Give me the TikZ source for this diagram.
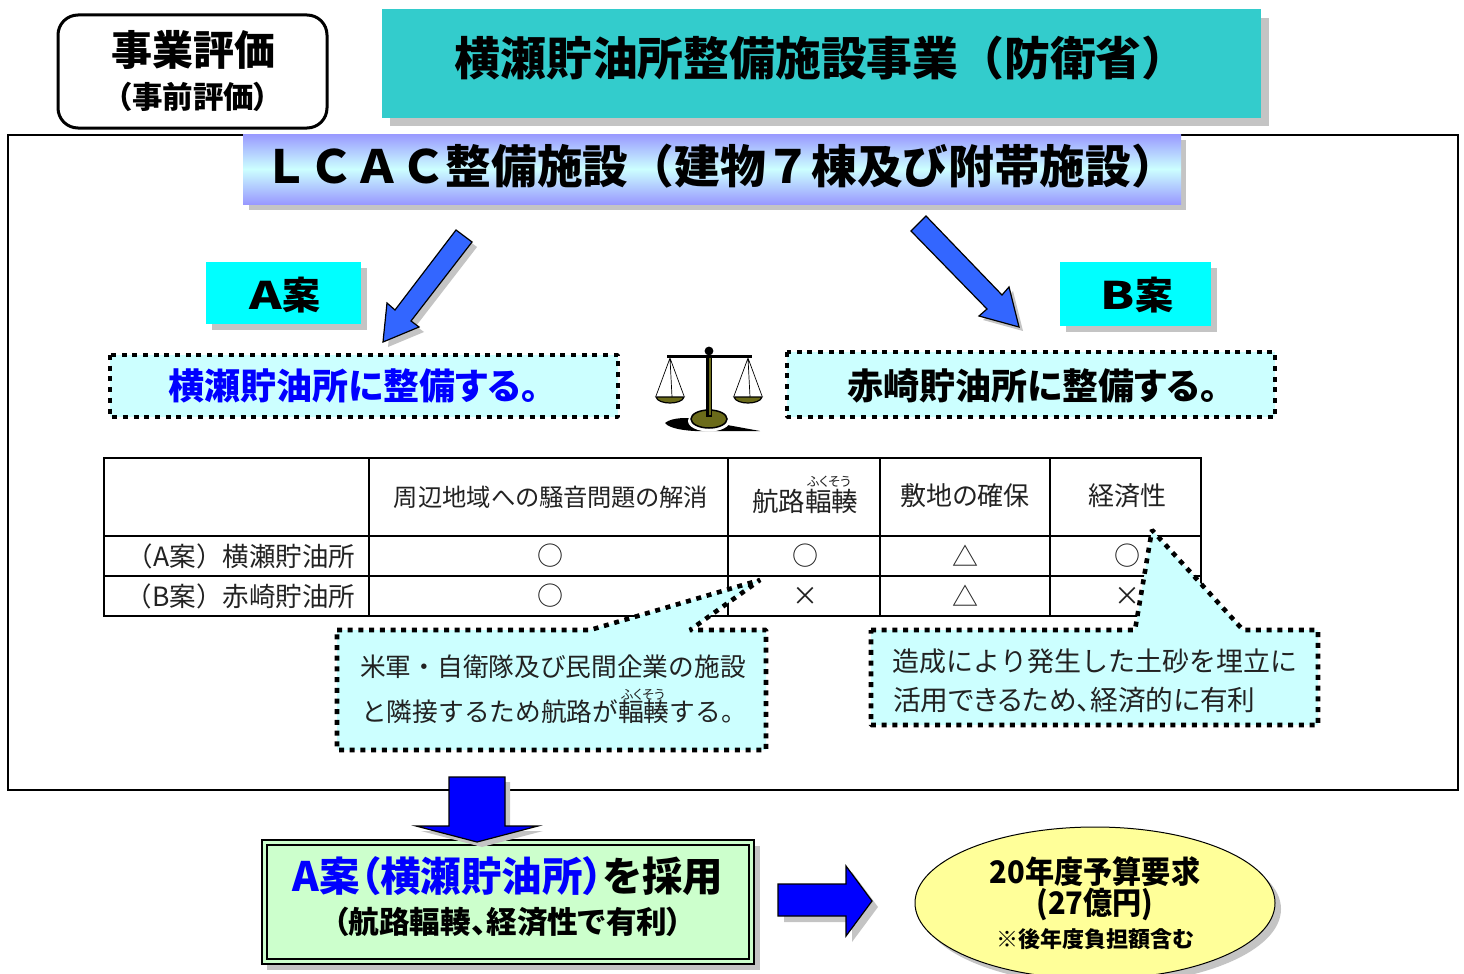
\documentclass[tikz,border=0pt]{standalone}
\usepackage{fontspec}
\setmainfont{Noto Sans CJK JP}[RawFeature=+palt]
\newfontfamily\jpf{Noto Sans CJK JP}
\usetikzlibrary{shapes.geometric}
\newcommand{\fsz}[1]{\fontsize{#1}{#1}\selectfont}
\definecolor{tealbox}{HTML}{33CCCC}
\definecolor{shadowgray}{HTML}{C4C4C4}
\definecolor{palecyan}{HTML}{CCFFFF}
\definecolor{aqua}{HTML}{00FFFF}
\definecolor{arrowblue}{HTML}{3366FF}
\definecolor{peri}{HTML}{9999FF}
\definecolor{palegreen}{HTML}{CCFFCC}
\definecolor{paleyellow}{HTML}{FFFF99}
\definecolor{olive}{HTML}{6B6B1A}
\definecolor{inkgray}{HTML}{222222}
\tikzset{
  x=1pt,y=-1pt,
  lbl/.style={inner sep=0pt,outer sep=0pt,align=center,text=black},
  shade box/.style={fill=shadowgray,draw=none},
  dotline/.style={draw=black,line width=4.6pt,dash pattern=on 5pt off 5.7pt,line join=bevel},
  cell/.style={lbl,text=inkgray},
  blockarrow/.style={draw=black,line width=1.2pt,line join=miter},
  tablerule/.style={draw=black,line width=2pt},
}
\begin{document}
\begin{tikzpicture}
\useasboundingbox (0,0) rectangle (1464,974);
% header
\draw[black,line width=3pt,rounded corners=20pt,fill=white] (58,15) rectangle (327,128);
\node[lbl] (hyoka) at (193,50) {\fsz{41}\bfseries 事業評価};
\node[lbl] (jizen) at (193,97) {\fsz{30.5}\bfseries （事前評価）};
\fill[shade box] (390,18) rectangle (1269,126);
\fill[tealbox] (382,9.5) rectangle (1261,118);
\node[lbl] (title) at (821,58) {\jpf\fsz{45.8}\bfseries 横瀬貯油所整備施設事業（防衛省）};
% frame
\draw[black,line width=2.4pt,fill=white] (8,135) rectangle (1458,790);
\fill[shade box] (249,140) rectangle (1186,210);
\shade[top color=peri,bottom color=peri,middle color=palecyan] (243,134) rectangle (1181,204);
\node[lbl] (lcac) at (720,166) {\jpf\fsz{45.7}\bfseries ＬＣＡＣ整備施設（建物７棟及び附帯施設）};
% options
\fill[shade box] (212,268) rectangle (367,330);
\fill[aqua] (206,261.5) rectangle (361,324);
\node[lbl] (aan) at (285,295) {\fsz{38}\bfseries \scalebox{1.3}[1]{A}案};
\fill[shade box] (1066,268) rectangle (1217,332);
\fill[aqua] (1060,261.5) rectangle (1211,326);
\node[lbl] (ban) at (1137,295) {\fsz{38}\bfseries \scalebox{1.3}[1]{B}案};
% arrows
\fill[shade box,shift={(5,5)}] (456,230) -- (472,242) -- (411,321) -- (419,327) -- (383,342) -- (387,303) -- (395,310) -- cycle;
\draw[blockarrow,fill=arrowblue] (456,230) -- (472,242) -- (411,321) -- (419,327) -- (383,342) -- (387,303) -- (395,310) -- cycle;
\fill[shade box,shift={(4,4)}] (926,216) -- (911,231) -- (987,309) -- (979,316) -- (1019,327) -- (1009,287) -- (1002,295) -- cycle;
\draw[blockarrow,fill=arrowblue] (926,216) -- (911,231) -- (987,309) -- (979,316) -- (1019,327) -- (1009,287) -- (1002,295) -- cycle;
% plan boxes
\path[fill=palecyan] (110,355) rectangle (618,417);
\path[dotline] (110,355) rectangle (618,417);
\node[lbl,text=blue] (plana) at (354,385.5) {\fsz{36}\bfseries 横瀬貯油所に整備する。};
\path[fill=palecyan] (787,352) rectangle (1275,417);
\path[dotline] (787,352) rectangle (1275,417);
\node[lbl] (planb) at (1033,385.5) {\fsz{36}\bfseries 赤崎貯油所に整備する。};
% scales
\fill[black] (665,423) .. controls (672,417) and (690,417) .. (700,420) -- (760,431) -- (712,431) .. controls (695,432) and (670,430) .. (665,423) -- cycle;
\fill[white] (709,421) ellipse [x radius=21,y radius=10.5];
\draw[black,line width=1.5pt,fill=olive] (709,419) ellipse [x radius=18,y radius=9];
\fill[black] (706,356) rectangle (712,417);
\fill[olive] (708.5,358) rectangle (710.5,415);
\fill[black] (667,354.8) rectangle (752,357.8);
\fill[black] (709,351) circle (4.4);
\draw[black,line width=.7pt] (656,396) -- (670,358) -- (684,396) (670,358) -- (672,397);
\draw[black,line width=.7pt] (734,396) -- (748,358) -- (762,396) (748,358) -- (750,397);
\draw[black,line width=1.2pt,fill=olive] (656,397) .. controls (658,405) and (682,405) .. (684,397) -- cycle;
\draw[black,line width=1.2pt,fill=olive] (734,397) .. controls (736,405) and (760,405) .. (762,397) -- cycle;
% table
\draw[tablerule] (104,457.5) rectangle (1201,616);
\draw[tablerule] (104,536) -- (1201,536) (104,576) -- (1201,576);
\draw[tablerule] (369,457.5) -- (369,616) (728,457.5) -- (728,616) (880,457.5) -- (880,616) (1050,457.5) -- (1050,616);
\node[cell] (h1) at (551,497) {\fsz{24.3}周辺地域への騒音問題の解消};
\node[cell] (h2) at (805,501) {\fsz{26.5}航路輻輳};
\node[cell] (r1) at (829,482) {\fsz{13}ふくそう};
\node[cell] (h3) at (965,496) {\fsz{26}敷地の確保};
\node[cell] (h4) at (1127,496) {\fsz{26}経済性};
\node[cell,anchor=east] (a0) at (355,556) {\jpf\fsz{26.5}（A案）横瀬貯油所};
\node[cell,anchor=east] (b0) at (355,596) {\jpf\fsz{26.5}（B案）赤崎貯油所};
\node[cell] (a1) at (550,556) {\jpf\fsz{26}○};
\node[cell] (a2) at (805,556) {\jpf\fsz{26}○};
\node[cell] (a3) at (965,556) {\jpf\fsz{26}△};
\node[cell] (a4) at (1127,556) {\jpf\fsz{26}○};
\node[cell] (b1) at (550,596) {\jpf\fsz{26}○};
\node[cell] (b2) at (805,596) {\jpf\fsz{26}×};
\node[cell] (b3) at (965,596) {\jpf\fsz{26}△};
\node[cell] (b4) at (1127,596) {\jpf\fsz{26}×};
% callouts
\path[fill=palecyan] (337,630) -- (590,630) -- (760,580) -- (690,630) -- (766,630) -- (766,750) -- (337,750) -- cycle;
\path[dotline] (337,630) -- (590,630) -- (760,580) -- (690,630) -- (766,630) -- (766,750) -- (337,750) -- cycle;
\node[cell] (c1a) at (553,667) {\jpf\fsz{25.7}米軍・自衛隊及び民間企業の施設};
\node[cell] (c1b) at (554,712) {\jpf\fsz{25.7}と隣接するため航路が輻輳する。};
\node[cell] (c1r) at (643,695) {\fsz{13}ふくそう};
\path[fill=palecyan] (871,630) -- (1135,630) -- (1152,530) -- (1243,630) -- (1318,630) -- (1318,725) -- (871,725) -- cycle;
\path[dotline] (871,630) -- (1135,630) -- (1152,530) -- (1243,630) -- (1318,630) -- (1318,725) -- (871,725) -- cycle;
\node[cell] (c2a) at (1095,661) {\jpf\fsz{27}造成により発生した土砂を埋立に};
\node[cell,anchor=west] (c2b) at (893,700) {\fsz{27.7}活用できるため、経済的に有利};
% result
\fill[shade box] (267,846) rectangle (760,970);
\draw[black,line width=2.5pt,fill=palegreen] (262,840) rectangle (754,964);
\draw[black,line width=1.5pt] (267,845) rectangle (749,959);
\fill[shade box,shift={(5,5)}] (449,777) -- (505,777) -- (505,826) -- (538,826) -- (477,842) -- (416,826) -- (449,826) -- cycle;
\draw[blockarrow,fill=blue] (449,777) -- (505,777) -- (505,826) -- (538,826) -- (477,842) -- (416,826) -- (449,826) -- cycle;
\node[lbl] (res1) at (508,876) {\fsz{40.5}\bfseries \textcolor{blue}{A案（横瀬貯油所）}を採用};
\node[lbl] (res2) at (508,922) {\fsz{30.6}\bfseries （航路輻輳、経済性で有利）};
\fill[shade box,shift={(6,6)}] (778,884) -- (846,884) -- (846,866) -- (872,901) -- (846,936) -- (846,916) -- (778,916) -- cycle;
\draw[blockarrow,fill=blue] (778,884) -- (846,884) -- (846,866) -- (872,901) -- (846,936) -- (846,916) -- (778,916) -- cycle;
\fill[shade box] (1101,909) ellipse [x radius=180,y radius=76];
\draw[black,line width=1pt,fill=paleyellow] (1095,903) ellipse [x radius=180,y radius=76];
\node[lbl] (bud1) at (1095,872) {\fsz{31}\bfseries \scalebox{.94}[1]{20年度予算要求}};
\node[lbl] (bud2) at (1095,904) {\fsz{31}\bfseries \scalebox{.94}[1]{(27億円)}};
\node[lbl] (bud3) at (1095,939) {\fsz{22}\bfseries ※後年度負担額含む};
\end{tikzpicture}
\end{document}
